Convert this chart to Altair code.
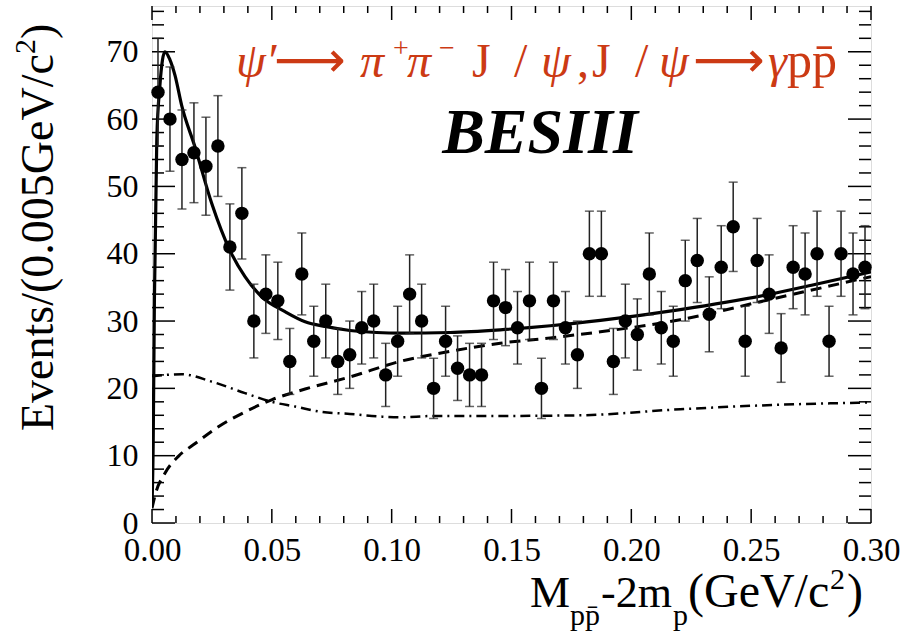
import altair as alt
import pandas as pd

# ---------------- data ----------------
bin_center = [0.0025, 0.0075, 0.0125, 0.0175, 0.0225, 0.0275, 0.0325, 0.0375, 0.0425, 0.0475,
              0.0525, 0.0575, 0.0625, 0.0675, 0.0725, 0.0775, 0.0825, 0.0875, 0.0925, 0.0975,
              0.1025, 0.1075, 0.1125, 0.1175, 0.1225, 0.1275, 0.1325, 0.1375, 0.1425, 0.1475,
              0.1525, 0.1575, 0.1625, 0.1675, 0.1725, 0.1775, 0.1825, 0.1875, 0.1925, 0.1975,
              0.2025, 0.2075, 0.2125, 0.2175, 0.2225, 0.2275, 0.2325, 0.2375, 0.2425, 0.2475,
              0.2525, 0.2575, 0.2625, 0.2675, 0.2725, 0.2775, 0.2825, 0.2875, 0.2925, 0.2975]
events = [64, 60, 54, 55, 53, 56, 41, 46, 30, 34,
          33, 24, 37, 27, 30, 24, 25, 29, 30, 22,
          27, 34, 30, 20, 27, 23, 22, 22, 33, 32,
          29, 33, 20, 33, 29, 25, 40, 40, 24, 30,
          28, 37, 29, 27, 36, 39, 31, 38, 44, 27,
          39, 34, 26, 38, 37, 40, 27, 40, 37, 38]

# total fit (solid)
fit_x = [0.0, 0.0005, 0.001, 0.002, 0.0033, 0.0054, 0.0075, 0.0096, 0.0124, 0.0179, 0.0249,
         0.0325, 0.0388, 0.0458, 0.0555, 0.0639, 0.0722, 0.0826, 0.0937, 0.1035, 0.1244,
         0.1453, 0.1662, 0.1871, 0.2204, 0.2566, 0.2761, 0.30]
fit_y = [2.5, 12.0, 33.0, 57.0, 65.0, 70.0, 68.8, 66.5, 62.0, 55.9, 47.5,
         40.5, 36.6, 33.6, 31.4, 29.9, 29.2, 28.6, 28.3, 28.2, 28.3,
         28.7, 29.3, 30.1, 31.7, 33.9, 35.4, 37.3]

# dashed component
bkg_x = [0.0, 0.0015, 0.0054, 0.011, 0.018, 0.0277, 0.0388, 0.0499, 0.0639, 0.0826, 0.1035,
         0.1244, 0.1453, 0.1662, 0.1871, 0.2204, 0.2566, 0.30]
bkg_y = [2.2, 4.4, 7.4, 9.9, 11.8, 14.3, 16.5, 18.3, 19.9, 21.7, 24.0,
         25.5, 26.7, 27.5, 28.4, 30.2, 33.1, 36.6]

# dash-dotted component
dd_x = [0.0, 0.0124, 0.0249, 0.0388, 0.0499, 0.0597, 0.0708, 0.0826, 0.096, 0.1035,
        0.117, 0.1453, 0.1786, 0.2204, 0.2566, 0.30]
dd_y = [21.8, 22.1, 21.0, 19.3, 18.0, 17.3, 16.5, 16.2, 15.8, 15.7,
        15.9, 15.9, 16.0, 16.9, 17.5, 17.9]

x_major = [0.0, 0.05, 0.10, 0.15, 0.20, 0.25, 0.30]
x_minor = [0.01, 0.02, 0.03, 0.04, 0.06, 0.07, 0.08, 0.09, 0.11, 0.12, 0.13, 0.14,
           0.16, 0.17, 0.18, 0.19, 0.21, 0.22, 0.23, 0.24, 0.26, 0.27, 0.28, 0.29]
y_major = [0, 10, 20, 30, 40, 50, 60, 70]
y_minor = [2, 4, 6, 8, 12, 14, 16, 18, 22, 24, 26, 28, 32, 34, 36, 38, 42, 44, 46, 48,
           52, 54, 56, 58, 62, 64, 66, 68, 72, 74, 76]

# ---------------- layout ----------------
W, H = 719, 517
L, T = 152, 6
SERIF = "Liberation Serif"
RED = "#cc3a14"

xscale = alt.Scale(domain=[0, 0.30], nice=False, zero=False)
yscale = alt.Scale(domain=[0, 76.8], nice=False, zero=False)

xaxis = alt.Axis(values=x_major, format=".2f", ticks=False, tickSize=0, domain=False, grid=False,
                 labelFont=SERIF, labelFontSize=33, labelColor="black", labelPadding=11,
                 labelFlush=False, labelOverlap=False, title=None)
yaxis = alt.Axis(values=y_major, format="d", ticks=False, tickSize=0, domain=False, grid=False,
                 labelFont=SERIF, labelFontSize=32, labelColor="black", labelPadding=14,
                 labelOverlap=False, title=None)


def X(field):
    return alt.X(field, type="quantitative", scale=xscale, axis=xaxis)


def Y(field):
    return alt.Y(field, type="quantitative", scale=yscale, axis=yaxis)


df = pd.DataFrame({"m": bin_center, "n": events})

points = alt.Chart(df).mark_circle(size=180, color="black", opacity=1).encode(
    x=X("m"), y=Y("n"))

errs = alt.Chart(df).transform_calculate(
    lo="datum.n - sqrt(datum.n)", hi="datum.n + sqrt(datum.n)"
).mark_errorbar(ticks={"size": 9, "thickness": 1.5, "color": "#222"},
                rule={"strokeWidth": 1.5, "color": "#222"}).encode(
    x=X("m"), y=Y("lo"), y2="hi:Q")


def curve(xs, ys, **kw):
    d = pd.DataFrame({"m": xs, "v": ys})
    return alt.Chart(d).mark_line(color="black", interpolate="monotone", clip=True, **kw).encode(
        x=X("m"), y=Y("v"))


fit = curve(fit_x, fit_y, strokeWidth=3.2)
bkg = curve(bkg_x, bkg_y, strokeWidth=3, strokeDash=[11, 7])
dd = curve(dd_x, dd_y, strokeWidth=2.5, strokeDash=[10, 5, 2, 5])


def xticks(vals, length):
    d = pd.DataFrame({"m": vals})
    bot = alt.Chart(d).mark_rule(color="black", strokeWidth=1.5).encode(
        x=X("m"), y=alt.value(H), y2=alt.value(H - length))
    top = alt.Chart(d).mark_rule(color="black", strokeWidth=1.5).encode(
        x=X("m"), y=alt.value(0), y2=alt.value(length))
    return [bot, top]


def yticks(vals, length):
    d = pd.DataFrame({"n": vals})
    left = alt.Chart(d).mark_rule(color="black", strokeWidth=1.5).encode(
        y=Y("n"), x=alt.value(0), x2=alt.value(length))
    right = alt.Chart(d).mark_rule(color="black", strokeWidth=1.5).encode(
        y=Y("n"), x=alt.value(W), x2=alt.value(W - length))
    return [left, right]


def label(txt, px, py, size, color="black", style="normal", weight="normal",
          angle=0, align="left", font=SERIF):
    return alt.Chart(pd.DataFrame({"t": [txt]})).mark_text(
        text=txt, fontSize=size, font=font, fontStyle=style, fontWeight=weight,
        color=color, angle=angle, align=align, baseline="alphabetic",
    ).encode(x=alt.value(px - L), y=alt.value(py - T))


texts = [
    # x axis title
    label("M", 530, 607, 45),
    label("pp\u0304", 570, 625, 30),
    label("-2m", 601, 607, 44),
    label("p", 673, 625, 30),
    label("(GeV/c", 688, 607, 48),
    label("2", 830, 589, 30),
    label(")", 847, 607, 48),
    # y axis title (rotated)
    label("Events/(0.005GeV/c", 53, 431, 46, angle=270),
    label("2", 35, 54, 30, angle=270),
    label(")", 53, 39, 46, angle=270),
    # decay annotation
    label("\u03c8\u2032", 236, 77, 48, color=RED, style="italic"),
    label("\u27f6", 274, 77, 50, color=RED, font="DejaVu Sans"),
    label("\u03c0", 360, 77, 48, color=RED, style="italic"),
    label("+", 393, 57, 28, color=RED),
    label("\u03c0", 407, 77, 48, color=RED, style="italic"),
    label("\u2212", 439, 57, 28, color=RED),
    label("J", 472, 77, 48, color=RED),
    label("/", 514, 77, 48, color=RED),
    label("\u03c8", 541, 77, 48, color=RED, style="italic"),
    label(",", 577, 77, 48, color=RED),
    label("J", 592, 77, 48, color=RED),
    label("/", 635, 77, 48, color=RED),
    label("\u03c8", 659, 77, 48, color=RED, style="italic"),
    label("\u27f6", 693, 77, 50, color=RED, font="DejaVu Sans"),
    label("\u03b3", 768, 77, 48, color=RED, style="italic"),
    label("pp\u0304", 787, 77, 50, color=RED),
    # experiment label
    label("BESIII", 540, 153, 64, style="italic", weight="bold", align="center"),
]

layers = (xticks(x_major, 14) + xticks(x_minor, 7) + yticks(y_major, 23) + yticks(y_minor, 12)
          + [dd, bkg, fit, errs, points] + texts)

chart = alt.layer(*layers).properties(
    width=W, height=H,
    padding={"left": L, "top": T, "right": 901 - L - W, "bottom": 636 - T - H},
    autosize=alt.AutoSizeParams(type="none"),
).configure_view(stroke="black", strokeWidth=2).configure(background="white")

chart.save("out.html", embed_options={"renderer": "svg", "actions": False})
